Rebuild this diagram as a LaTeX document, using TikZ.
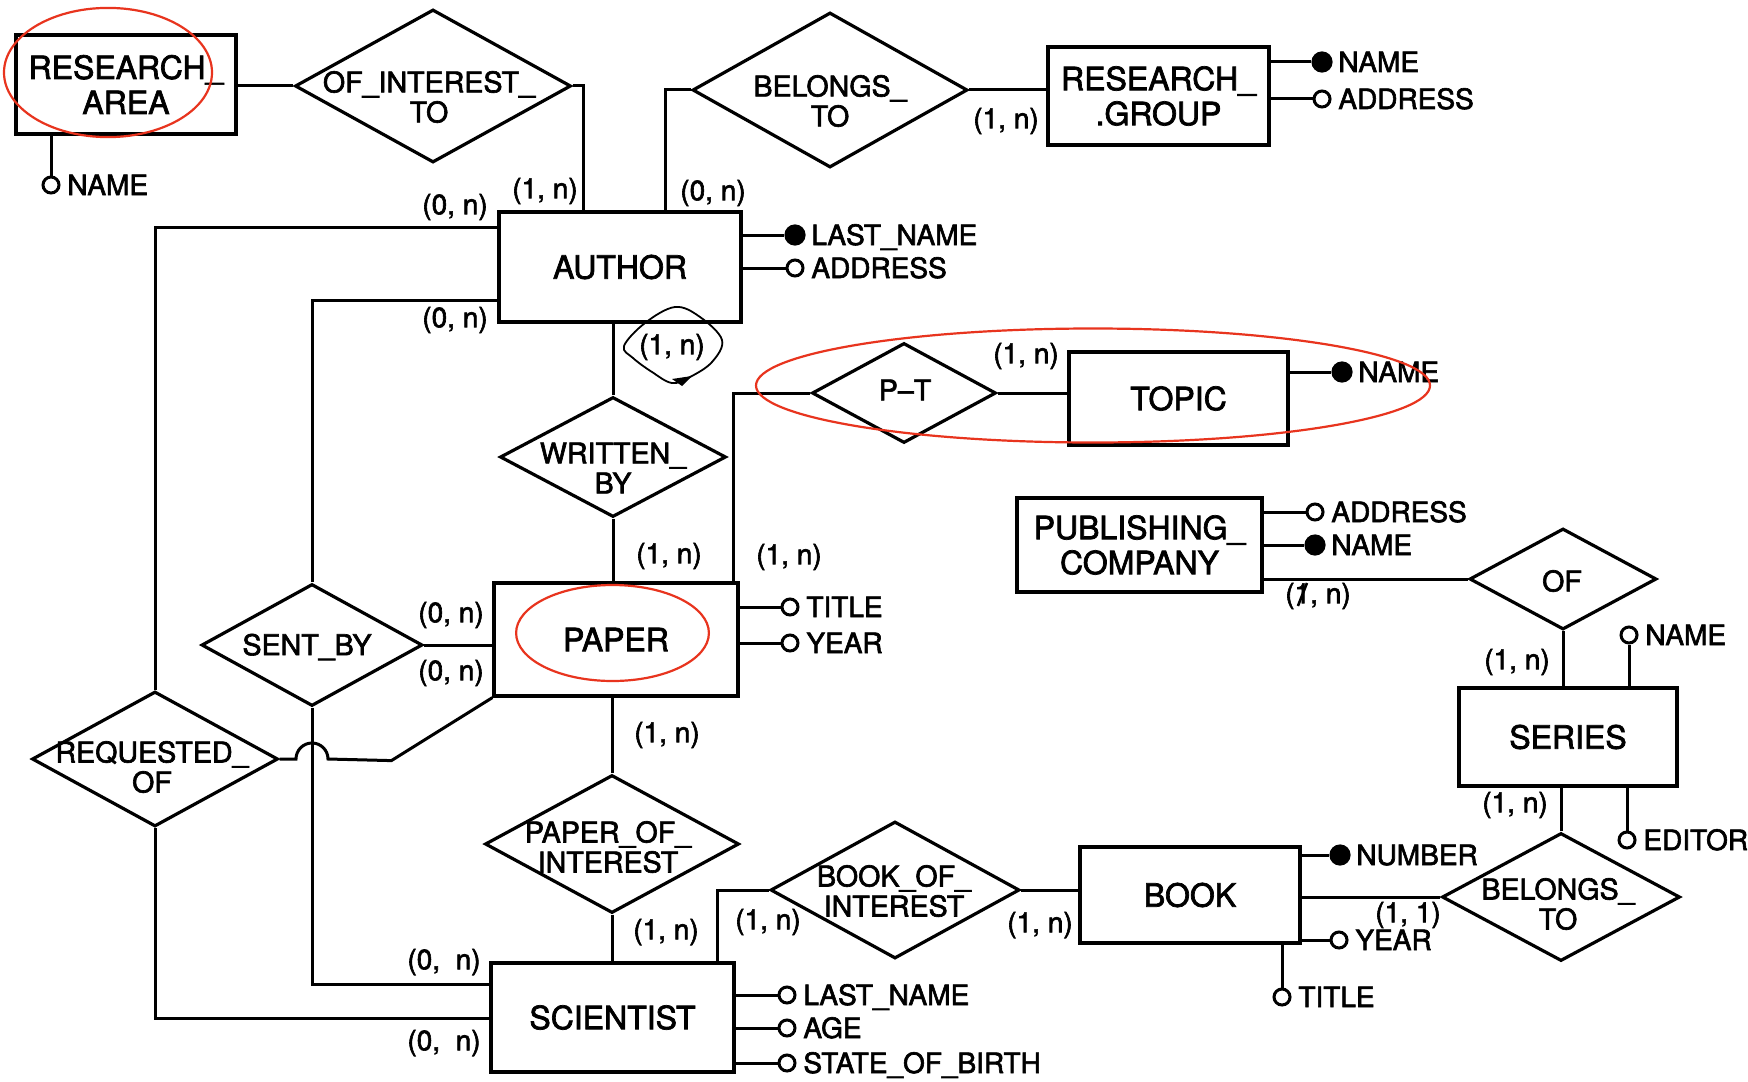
\documentclass[tikz,border=0pt]{standalone}
\usepackage{fontspec}
\newfontfamily\diafont[FakeBold=2.2,Ligatures=TeX]{TeX Gyre Heros}
\usetikzlibrary{shapes.geometric,calc}

\tikzset{
  entity/.style={draw, rectangle, line width=1.6pt, inner sep=0pt, align=center,
                 font=\diafont\fontsize{16pt}{17.5pt}\selectfont},
  rel/.style={draw, diamond, line width=1.6pt, inner sep=0pt},
  rtext/.style={align=center, inner sep=0pt, font=\diafont\fontsize{14.3pt}{15pt}\selectfont},
  card/.style={inner sep=0pt, font=\diafont\fontsize{14pt}{14pt}\selectfont},
  ak/.style={circle, draw, fill, line width=0.6pt, minimum size=10pt, inner sep=0pt},
  ao/.style={circle, draw, fill=white, line width=1.5pt, minimum size=8pt, inner sep=0pt},
  atext/.style={anchor=west, inner sep=0pt, text height=10pt, text depth=0pt,
                font=\diafont\fontsize{14pt}{14pt}\selectfont},
  link/.style={line width=1.5pt},
  redmark/.style={draw=markred, line width=1.1pt},
}
\definecolor{markred}{RGB}{232,52,30}

% attribute: name, position, style (ak = key, ao = optional), text
\newcommand\attrnode[4]{%
  \node[#3] (#1) at (#2) {};
  \node[atext] (#1-t) at ([xshift=8pt]#1.center) {#4};}

\begin{document}
\begin{tikzpicture}[x=0.5pt, y=-0.5pt]
\fill[white] (0,0) rectangle (1748,1081);
\useasboundingbox (0,0) rectangle (1748,1081);

% ---------- entities ----------
\node[entity, minimum width=110pt, minimum height=49.5pt] (ra) at (126,84.5) {RESEARCH\_\\AREA};
\node[entity, minimum width=121pt, minimum height=55pt] (author) at (620,267) {AUTHOR};
\node[entity, minimum width=110.5pt, minimum height=49pt] (rg) at (1158.5,96) {RESEARCH\_\\.GROUP};
\node[entity, minimum width=109.5pt, minimum height=46.5pt] (topic) at (1178.5,398.5) {TOPIC};
\node[entity, minimum width=122.5pt, minimum height=47pt] (pub) at (1139.5,545) {PUBLISHING\_\\COMPANY};
\node[entity, minimum width=109pt, minimum height=49pt] (series) at (1568,737) {SERIES};
\node[entity, minimum width=110pt, minimum height=48pt] (book) at (1190,895) {BOOK};
\node[entity, minimum width=121.5pt, minimum height=54.5pt] (scientist) at (612.5,1017.5) {SCIENTIST};
\node[entity, minimum width=122pt, minimum height=56.5pt] (paper) at (616,639.5) {PAPER};

% ---------- relationships ----------
\node[rel, minimum width=138pt, minimum height=76.5pt] (oit) at (433,86) {};
\node[rtext] (oit-t) at ($(oit)+(-4,11)$) {OF\_INTEREST\_\\TO};
\node[rel, minimum width=137.5pt, minimum height=77.5pt] (bel1) at (830,90) {};
\node[rtext] (bel1-t) at ($(bel1)+(0,11)$) {BELONGS\_\\TO};
\node[rel, minimum width=92pt, minimum height=50pt] (pt) at (904,393) {};
\node[rtext] (pt-t) at ($(pt)+(1,-3)$) {P–T};
\node[rel, minimum width=113pt, minimum height=60pt] (wb) at (613,457) {};
\node[rtext] (wb-t) at ($(wb)+(0,11)$) {WRITTEN\_\\BY};
\node[rel, minimum width=110.5pt, minimum height=61pt] (sb) at (312,645) {};
\node[rtext] (sb-t) at ($(sb)+(-5,2)$) {SENT\_BY};
\node[rel, minimum width=123pt, minimum height=67.5pt] (ro) at (155,759) {};
\node[rtext] (ro-t) at ($(ro)+(-3,8)$) {REQUESTED\_\\OF};
\node[rel, minimum width=127pt, minimum height=69pt] (poi) at (612,844) {};
\node[rtext] (poi-t) at ($(poi)+(-4,3)$) {PAPER\_OF\_\\INTEREST};
\node[rel, minimum width=124.5pt, minimum height=68.5pt] (boi) at (895,890) {};
\node[rtext] (boi-t) at ($(boi)+(-1,1)$) {BOOK\_OF\_\\INTEREST};
\node[rel, minimum width=93.5pt, minimum height=50.5pt] (of) at (1563,579) {};
\node[rtext] (of-t) at ($(of)+(-1,2)$) {OF};
\node[rel, minimum width=119pt, minimum height=64pt] (bel2) at (1561,897) {};
\node[rtext] (bel2-t) at ($(bel2)+(-3,7)$) {BELONGS\_\\TO};

% ---------- relationship links ----------
\draw[link] (oit.west) -- (oit.west -| ra.east);
\draw[link] (oit.east) -| ($(author.north west)+(86,0)$);
\draw[link] (bel1.west) -| ($(author.north west)+(168,0)$);
\draw[link] (bel1.east) -- (bel1.east -| rg.west);
\draw[link] ($(author.north west)+(0,17)$) -| (ro.north);
\draw[link] ($(author.south west)+(0,-23)$) -| (sb.north);
\draw[link] (author.south -| wb.north) -- (wb.north);
\draw[link] (wb.south) -- (wb.south |- paper.north);
\draw[link] (pt.west) -| ($(paper.north east)+(-6,0)$);
\draw[link] (pt.east) -- (pt.east -| topic.west);
\draw[link] (sb.east) -- (sb.east -| paper.west);
\coordinate (cross) at (sb.south |- ro.east);
\draw[link] (paper.south west) -- ($(paper.south west)+(-101,63)$)
   -- ($(cross)+(16,0)$) arc[start angle=0, end angle=180, radius=8pt] -- (ro.east);
\draw[link] (sb.south) |- ($(scientist.north west)+(0,23)$);
\draw[link] (ro.south) |- ($(scientist.north west)+(0,57)$);
\draw[link] (paper.south -| poi.north) -- (poi.north);
\draw[link] (poi.south) -- (poi.south |- scientist.north);
\draw[link] (boi.west) -| ($(scientist.north east)+(-18,0)$);
\draw[link] (boi.east) -- (boi.east -| book.west);
\draw[link] (bel2.west) -- (bel2.west -| book.east);
\draw[link] (bel2.north) -- (bel2.north |- series.south);
\draw[link] (of.south) -- (of.south |- series.north);
\draw[link] (of.west) -- (of.west -| pub.east);

% ---------- attributes ----------
\attrnode{ra-name}{51,185}{ao}{NAME}
\draw[link] (ra-name) -- (ra-name |- ra.south);

\attrnode{rg-name}{1322,62}{ak}{NAME}
\attrnode{rg-addr}{1322,99}{ao}{ADDRESS}
\draw[link] (rg.east |- rg-name) -- (rg-name);
\draw[link] (rg.east |- rg-addr) -- (rg-addr);

\attrnode{au-last}{795,235}{ak}{LAST\_NAME}
\attrnode{au-addr}{795,268}{ao}{ADDRESS}
\draw[link] (author.east |- au-last) -- (au-last);
\draw[link] (author.east |- au-addr) -- (au-addr);

\attrnode{to-name}{1342,372}{ak}{NAME}
\draw[link] (topic.east |- to-name) -- (to-name);

\attrnode{pa-title}{790,607}{ao}{TITLE}
\attrnode{pa-year}{790,643}{ao}{YEAR}
\draw[link] (paper.east |- pa-title) -- (pa-title);
\draw[link] (paper.east |- pa-year) -- (pa-year);

\attrnode{pu-addr}{1315,512}{ao}{ADDRESS}
\attrnode{pu-name}{1315,545}{ak}{NAME}
\draw[link] (pub.east |- pu-addr) -- (pu-addr);
\draw[link] (pub.east |- pu-name) -- (pu-name);

\attrnode{se-name}{1629,635}{ao}{NAME}
\attrnode{se-ed}{1627,840}{ao}{EDITOR}
\draw[link] (se-name) -- (se-name |- series.north);
\draw[link] (se-ed) -- (se-ed |- series.south);

\attrnode{bo-num}{1340,855}{ak}{NUMBER}
\attrnode{bo-year}{1339,940}{ao}{YEAR}
\attrnode{bo-title}{1282,997}{ao}{TITLE}
\draw[link] (book.east |- bo-num) -- (bo-num);
\draw[link] (book.east |- bo-year) -- (bo-year);
\draw[link] (bo-title) -- (bo-title |- book.south);

\attrnode{sc-last}{787,995}{ao}{LAST\_NAME}
\attrnode{sc-age}{787,1028}{ao}{AGE}
\attrnode{sc-state}{787,1063}{ao}{STATE\_OF\_BIRTH}
\draw[link] (scientist.east |- sc-last) -- (sc-last);
\draw[link] (scientist.east |- sc-age) -- (sc-age);
\draw[link] (scientist.east |- sc-state) -- (sc-state);

% ---------- cardinalities ----------
\node[card] (c1) at (455,207) {(0, n)};
\node[card] (c2) at (545,191) {(1, n)};
\node[card] (c3) at (455,320) {(0, n)};
\node[card] (c4) at (713,193) {(0, n)};
\node[card] (c5) at (1006,121) {(1, n)};
\node[card] (c6) at (672,347) {(1, n)};
\node[card] (c7) at (1026,356) {(1, n)};
\node[card] (c8) at (669,556) {(1, n)};
\node[card] (c9) at (789,557) {(1, n)};
\node[card] (c10) at (451,615) {(0, n)};
\node[card] (c11) at (451,673) {(0, n)};
\node[card] (c12) at (667,735) {(1, n)};
\node[card] (c13) at (1318,596) {(1, n)};
\node[card] (c14) at (1517,662) {(1, n)};
\node[card] (c15) at (1515,805) {(1, n)};
\node[card] (c16) at (1408,915) {(1, 1)};
\node[card] (c17) at (1040,925) {(1, n)};
\node[card] (c18) at (768,922) {(1, n)};
\node[card] (c19) at (666,932) {(1, n)};
\node[card] (c20) at (444,962) {(0,\ \ n)};
\node[card] (c21) at (444,1043) {(0,\ \ n)};

% ---------- pen marks ----------
% stroke through the 1 of the PUBLISHING_COMPANY cardinality
\draw[line width=1.3pt] ($(c13.west)+(22,-13)$) .. controls ($(c13.west)+(18,-2)$) .. ($(c13.west)+(13,10)$);
% loop drawn round the (1, n) under AUTHOR
\draw[line width=0.9pt] plot[smooth cycle, tension=0.6] coordinates
  {(624,346) (645,323) (675,307) (700,317) (722,340) (712,362) (690,377)
   (672,383) (652,372) (633,358)};
\fill (672,379) -- (692,376) -- (682,386) -- cycle;

\draw[redmark] (108,72.5) ellipse [x radius=52pt, y radius=32.3pt];
\draw[redmark] (612.5,633) ellipse [x radius=48.2pt, y radius=24pt];
\draw[redmark] (1093,385.5) ellipse [x radius=168.5pt, y radius=28.5pt];
\end{tikzpicture}
\end{document}
